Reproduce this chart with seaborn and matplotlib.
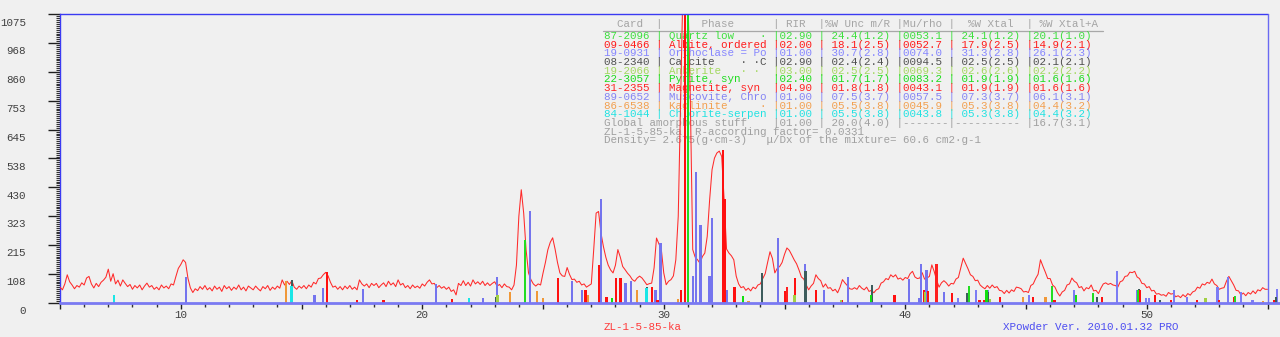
import numpy as np
import pandas as pd
import matplotlib
matplotlib.use("Agg")
import matplotlib.pyplot as plt
import matplotlib.transforms as mtransforms
from matplotlib.ticker import MultipleLocator, FixedLocator
import seaborn as sns

# ---------------- data ----------------
angle_start = 5.0
angle_step = 0.1
counts = [
    58, 48, 70, 104, 78, 66, 52, 64, 58, 74,
    66, 92, 98, 70, 55, 72, 60, 76, 84, 95,
    125, 80, 108, 70, 84, 62, 85, 72, 60, 68,
    50, 64, 55, 66, 48, 62, 73, 58, 64, 50,
    58, 48, 66, 55, 62, 52, 70, 66, 98, 128,
    142, 160, 150, 90, 55, 38, 52, 45, 60, 50,
    64, 48, 56, 44, 62, 50, 58, 42, 64, 52,
    60, 46, 58, 50, 66, 48, 58, 44, 62, 55,
    48, 62, 52, 44, 60, 52, 64, 46, 58, 50,
    62, 54, 85, 66, 80, 68, 82, 58, 50, 62,
    54, 64, 52, 66, 58, 76, 70, 90, 92, 104,
    113, 100, 76, 58, 62, 50, 60, 48, 62, 52,
    64, 50, 58, 48, 85, 70, 62, 70, 56, 72,
    64, 72, 56, 66, 74, 60, 80, 66, 74, 60,
    85, 66, 72, 56, 64, 52, 66, 56, 62, 54,
    70, 62, 76, 85, 70, 72, 56, 64, 54, 60,
    50, 58, 42, 48, 29, 72, 64, 82, 64, 76,
    62, 85, 70, 78, 68, 80, 64, 74, 64, 72,
    78, 62, 68, 56, 70, 60, 58, 48, 66, 140,
    322, 421, 334, 197, 111, 86, 70, 62, 70, 66,
    110, 150, 197, 225, 242, 200, 150, 111, 100, 98,
    131, 105, 86, 88, 76, 80, 66, 70, 58, 64,
    70, 198, 334, 340, 260, 210, 170, 140, 122, 111,
    140, 198, 170, 135, 123, 110, 100, 86, 80, 92,
    99, 92, 80, 67, 71, 73, 130, 241, 220, 198,
    111, 67, 80, 86, 100, 160, 322, 757, 1200, 1300,
    1150, 757, 198, 170, 160, 147, 172, 185, 247, 384,
    496, 539, 558, 565, 545, 384, 200, 185, 175, 160,
    99, 70, 56, 60, 46, 54, 44, 58, 52, 66,
    70, 90, 108, 150, 190, 165, 111, 128, 135, 150,
    180, 204, 195, 178, 160, 145, 122, 96, 88, 66,
    48, 62, 72, 104, 90, 82, 58, 70, 54, 56,
    44, 50, 37, 58, 86, 74, 64, 52, 50, 56,
    50, 64, 54, 48, 58, 42, 46, 37, 48, 52,
    73, 78, 90, 86, 104, 96, 104, 88, 92, 84,
    94, 90, 108, 117, 96, 90, 92, 112, 88, 92,
    98, 141, 116, 84, 58, 74, 82, 74, 62, 72,
    70, 88, 94, 130, 166, 146, 126, 104, 98, 82,
    84, 66, 58, 52, 64, 54, 66, 56, 60, 46,
    44, 34, 46, 36, 48, 42, 58, 56, 52, 40,
    42, 38, 64, 70, 90, 106, 160, 136, 114, 90,
    90, 66, 58, 38, 25, 40, 46, 66, 70, 92,
    80, 74, 56, 60, 44, 56, 52, 66, 44, 46,
    34, 54, 70, 74, 68, 72, 66, 64, 58, 78,
    82, 98, 100, 114, 112, 117, 96, 90, 72, 70,
    56, 60, 44, 46, 32, 34, 28, 30, 24, 38,
    32, 34, 22, 26, 19, 30, 22, 34, 28, 40,
    44, 58, 54, 70, 66, 76, 72, 88, 70, 64,
    50, 54, 56, 80, 98, 82, 66, 46, 44, 29,
    36, 26, 38, 32, 44, 34, 48, 44, 56, 50,
    50,
]

# stick patterns (position 2theta, intensity)
orthoclase_pos = [10.23, 15.54, 15.88, 17.56, 20.56, 22.52, 23.09, 24.46, 26.19, 26.62,
                  27.41, 28.42, 28.65, 29.66, 29.86, 31.20, 31.34, 31.52, 31.90, 32.00,
                  32.62, 34.72, 35.85, 36.65, 37.62, 40.15, 40.57, 40.65, 40.88, 41.61]
orthoclase_int = [96, 30, 56, 51, 70, 17, 96, 340, 80, 48,
                  386, 73, 80, 48, 222, 98, 486, 291, 98, 316,
                  48, 241, 145, 48, 96, 88, 17, 145, 123, 40]
muscovite_pos = [42.19, 42.94, 43.40, 45.11, 46.98, 48.76, 49.59, 49.97, 50.10, 51.14,
                 51.67, 52.93, 53.35, 53.90, 54.38, 55.40]
muscovite_int = [19, 48, 48, 27, 48, 120, 46, 17, 17, 46,
                 21, 58, 96, 40, 11, 50]
albite_pos = [16.06, 17.30, 18.39, 21.22, 25.63, 26.76, 27.31, 27.63, 28.03, 28.21,
              29.52, 29.74, 30.70, 30.87, 32.45, 32.55, 32.93, 35.03, 35.44, 36.29,
              37.37, 39.55, 40.79, 40.95, 41.94, 43.08, 43.26, 43.91, 45.29, 46.18,
              48.14, 49.72, 50.35, 51.00, 52.08, 53.00, 53.62, 55.28]
albite_int = [113, 10, 10, 14, 92, 48, 142, 22, 92, 92,
              57, 10, 48, 1100, 570, 385, 57, 42, 92, 46,
              11, 29, 48, 42, 37, 11, 11, 22, 22, 11,
              21, 48, 27, 11, 11, 11, 21, 11]
magnetite_pos = [35.10, 41.29]
magnetite_int = [58, 145]
quartz_pos = [24.26, 31.00, 42.63, 46.09, 47.77, 49.63, 53.66]
quartz_int = [235, 1100, 63, 63, 37, 46, 25]
pyrite_pos = [27.85, 33.28, 38.58, 43.36, 47.08]
pyrite_int = [19, 25, 30, 48, 27]
calcite_pos = [14.62, 23.07, 29.32, 34.06, 35.87, 38.62, 42.55, 43.44, 47.93, 49.68, 50.56, 55.35]
calcite_int = [85, 20, 57, 111, 120, 67, 37, 40, 21, 50, 11, 22]
ankerite_pos = [23.12, 35.42, 37.35, 40.82, 43.52, 52.43]
ankerite_int = [30, 29, 10, 40, 15, 17]
kaolinite_pos = [14.37, 23.64, 24.74, 25.01, 26.87, 28.90, 30.59, 33.51, 44.88, 45.81, 54.80]
kaolinite_int = [80, 40, 43, 18, 29, 49, 12, 6, 23, 20, 8]
chlorite_pos = [7.24, 14.58, 21.94, 29.29]
chlorite_int = [30, 61, 17, 53]

y_tick_values = [0, 107.5, 215, 322.5, 430, 537.5, 645, 752.5, 860, 967.5, 1075]
y_tick_labels = ["0", "108", "215", "323", "430", "538", "645", "753", "860", "968", "1075"]
x_tick_labels = ["10", "20", "30", "40", "50"]

table_header = "  Card  |      Phase      | RIR  |%W Unc m/R |Mu/rho |  %W Xtal  | %W Xtal+A"
cards = ["87-2096", "09-0466", "19-0931", "08-2340", "19-2066",
         "22-3057", "31-2355", "89-0652", "86-6538", "84-1044"]
phases = ["Quartz low    \u00b7", "Albite, ordered", "Orthoclase = Po", "Calcite    \u00b7 \u00b7C",
          "Ankerite   \u00b7 \u00b7 ", "Pyrite, syn", "Magnetite, syn", "Muscovite, Chro",
          "Kaolinite     \u00b7", "Chlorite-serpen"]
rir = ["02.90", "02.00", "01.00", "02.90", "03.00", "02.40", "04.90", "01.00", "01.00", "01.00"]
w_unc = ["24.4(1.2)", "18.1(2.5)", "30.7(2.8)", "02.4(2.4)", "02.5(2.5)",
         "01.7(1.7)", "01.8(1.8)", "07.5(3.7)", "05.5(3.8)", "05.5(3.8)"]
mu_rho = ["0053.1", "0052.7", "0074.0", "0094.5", "0069.3",
          "0083.2", "0043.1", "0057.5", "0045.9", "0043.8"]
w_xtal = ["24.1(1.2)", "17.9(2.5)", "31.3(2.8)", "02.5(2.5)", "02.6(2.6)",
          "01.9(1.9)", "01.9(1.9)", "07.3(3.7)", "05.3(3.8)", "05.3(3.8)"]
w_xtal_a = ["20.1(1.0)", "14.9(2.1)", "26.1(2.3)", "02.1(2.1)", "02.2(2.2)",
            "01.6(1.6)", "01.6(1.6)", "06.1(3.1)", "04.4(3.2)", "04.4(3.2)"]
amorphous_line = "Global amorphous stuff    |01.00 | 20.0(4.0) |-------|---------- |16.7(3.1)"
r_line = "ZL-1-5-85-ka: R-according factor= 0.0331"
density_line = "Density= 2.675(g\u00b7cm-3)   \u03bc/Dx of the mixture= 60.6 cm2\u00b7g-1"
sample_name = "ZL-1-5-85-ka"
software_name = "XPowder Ver. 2010.01.32 PRO"

# ---------------- style ----------------
sns.set_theme(style="white")
MONO = ["Liberation Mono", "DejaVu Sans Mono"]
plt.rcParams["font.family"] = MONO
BG = "#f0f0f0"

W, H = 1280, 337
fig = plt.figure(figsize=(W / 100, H / 100), dpi=100, facecolor=BG)
ax = fig.add_axes([60 / W, 34.3 / H, 1220 / W, 288.4 / H], facecolor=BG)

def fx(px):
    return px / W

def fy(py):
    return 1 - py / H

# profile
angles = np.round(angle_start + angle_step * np.arange(len(counts)), 2)
df = pd.DataFrame({"angle": angles, "counts": counts})
sns.lineplot(data=df, x="angle", y="counts", ax=ax, color="#ff2a2a", lw=0.75,
             zorder=3, estimator=None, sort=False, legend=False)

# sticks
bar_sets = [
    (orthoclase_pos, orthoclase_int, "#7474ee"),
    (muscovite_pos, muscovite_int, "#7c7cf4"),
    (kaolinite_pos, kaolinite_int, "#f09838"),
    (calcite_pos, calcite_int, "#3d5c5c"),
    (albite_pos, albite_int, "#ff1010"),
    (magnetite_pos, magnetite_int, "#ff2020"),
    (ankerite_pos, ankerite_int, "#a2d044"),
    (chlorite_pos, chlorite_int, "#1ae6e6"),
    (pyrite_pos, pyrite_int, "#10e010"),
    (quartz_pos, quartz_int, "#22dd22"),
]
for i, (pos, inten, col) in enumerate(bar_sets):
    ax.bar(pos, inten, width=0.095, color=col, linewidth=0, zorder=4 + i * 0.01)

# frame
ax.set_xlim(5, 5 + 1220 / 24.15)
ax.set_ylim(0, 1075)
for s in ["top", "right", "bottom"]:
    ax.spines[s].set_visible(False)
ax.spines["left"].set_color("#3a3af2")
ax.spines["left"].set_linewidth(1.0)
ax.plot([5, 55], [1075, 1075], color="#3a3af2", lw=1.0, clip_on=False, zorder=6)
ax.plot([55, 55], [0, 1075], color="#6a6af2", lw=1.0, zorder=6)
ax.axhline(0, color="#7a7af2", lw=2.0, zorder=5, clip_on=False)

# y ticks
ax.yaxis.set_major_locator(FixedLocator(y_tick_values))
ax.set_yticklabels(y_tick_labels)
ax.yaxis.set_minor_locator(MultipleLocator(107.5 / 15))
ax.tick_params(axis="y", which="major", direction="out", length=8.6, width=1.0,
               color="#202020", labelsize=7.8, labelcolor="#404040", pad=15.8, left=True)
ax.tick_params(axis="y", which="minor", direction="out", length=2.6, width=0.8,
               color="#303030", left=True)
off = mtransforms.ScaledTranslation(0, -7.3 / 100, fig.dpi_scale_trans)
for lab in ax.get_yticklabels():
    lab.set_transform(lab.get_transform() + off)

# x ticks
major_x = [5, 10, 15, 20, 25, 30, 35, 40, 45, 50, 55]
ax.xaxis.set_major_locator(FixedLocator(major_x))
ax.set_xticklabels([str(v) if str(v) in x_tick_labels else "" for v in major_x])
ax.xaxis.set_minor_locator(MultipleLocator(1))
ax.tick_params(axis="x", which="major", direction="out", length=4.0, width=1.0,
               color="#202020", labelsize=7.8, labelcolor="#404040", pad=1.5, bottom=True)
ax.tick_params(axis="x", which="minor", direction="out", length=2.6, width=1.0,
               color="#303030", bottom=True)
ax.set_xlabel("")
ax.set_ylabel("")

# table text
FS = 7.82
tx = fx(604.5)
ax.text(tx, fy(24.3 + 3.0), table_header, transform=fig.transFigure, fontsize=FS,
        color="#a4a4a4", va="baseline", ha="left", zorder=1, family=MONO)
ax.plot([fx(603), fx(1103)], [fy(30.7), fy(30.7)], transform=fig.transFigure,
        color="#a8a8a8", lw=0.9, zorder=1, clip_on=False)
row_colors = ["#3ee03e", "#ff1a1a", "#8686ff", "#505050", "#a4d860",
              "#1edc1e", "#ff2424", "#8484f4", "#f2a050", "#22e2e2"]
for i in range(len(cards)):
    row = f"{cards[i]:<7} | {phases[i]:<15} |{rir[i]} | {w_unc[i]} |{mu_rho[i]} | {w_xtal[i]} |{w_xtal_a[i]}"
    yc = 36.0 + 8.7 * i
    ax.text(tx, fy(yc + 3.0), row, transform=fig.transFigure, fontsize=FS,
            color=row_colors[i], va="baseline", ha="left", zorder=1, family=MONO)
for j, line in enumerate([amorphous_line, r_line, density_line]):
    yc = 36.0 + 8.7 * (10 + j)
    ax.text(tx, fy(yc + 3.0), line, transform=fig.transFigure, fontsize=FS,
            color="#a0a0a0", va="baseline", ha="left", zorder=1, family=MONO)

# footer labels
fig.text(fx(642.5), fy(329.5), sample_name, fontsize=FS, color="#ff3a3a",
         ha="center", va="baseline", family=MONO)
fig.text(fx(1090.5), fy(329.5), software_name, fontsize=FS, color="#4c4cf0",
         ha="center", va="baseline", family=MONO)

fig.savefig("out.png", dpi=100, facecolor=BG)
